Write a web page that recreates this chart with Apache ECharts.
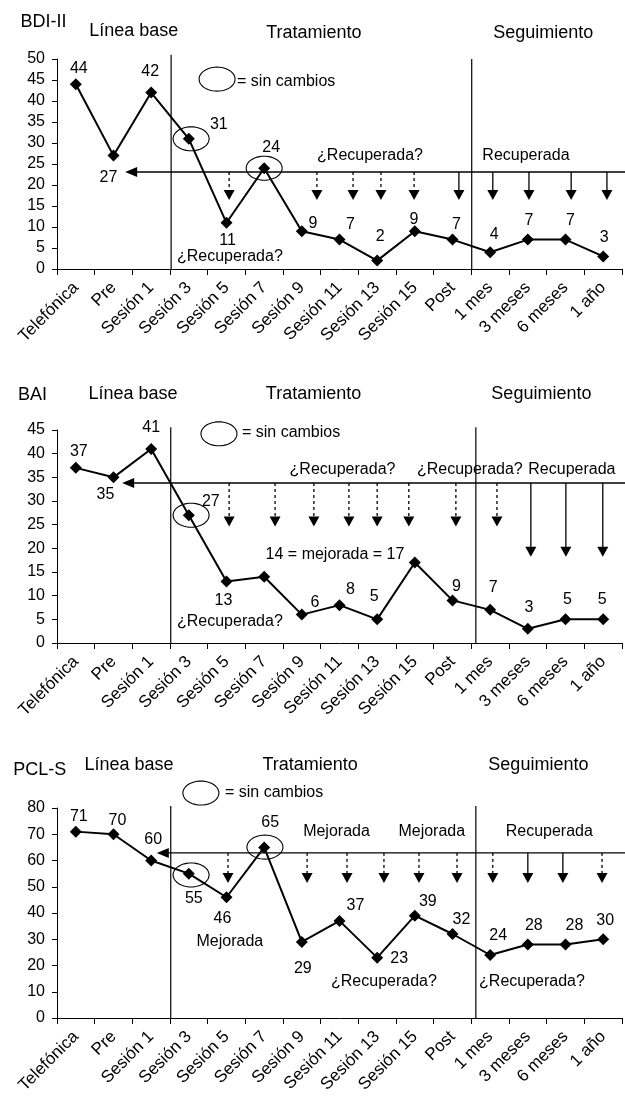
<!DOCTYPE html>
<html><head><meta charset="utf-8">
<script src="https://cdn.jsdelivr.net/npm/echarts@6/dist/echarts.min.js"></script>
<style>html,body{margin:0;padding:0;background:#fff}#c{width:625px;height:1099px}</style>
</head><body><div id="c"></div>
<script>
// ---------- data ----------
const categories = ['Telefónica','Pre','Sesión 1','Sesión 3','Sesión 5','Sesión 7','Sesión 9','Sesión 11','Sesión 13','Sesión 15','Post','1 mes','3 meses','6 meses','1 año'];

const bdiValues = [44,27,42,31,11,24,9,7,2,9,7,4,7,7,3];
const baiValues = [37,35,41,27,13,14,6,8,5,17,9,7,3,5,5];
const pclValues = [71,70,60,55,46,65,29,37,23,39,32,24,28,28,30];

const bdiYAxis = [0,50,5];   // min, max, interval
const baiYAxis = [0,45,5];
const pclYAxis = [0,80,10];

// cut-off (value) and where its arrow starts (x in category units)
const bdiCutoff = [23.1, 1.81];
const baiCutoff = [33.8, 1.73];
const pclCutoff = [62.9, 2.65];

// arrows: [x position (category units), tip value, dashed 1/0]
const bdiArrows = [[4.57,16.4,1],[6.9,16.4,1],[7.86,16.4,1],[8.6,16.4,1],[9.48,16.4,1],[10.67,16.4,0],[11.57,16.4,0],[12.53,16.4,0],[13.65,16.4,0],[14.6,16.4,0]];
const baiArrows = [[4.57,24.6,1],[5.79,24.6,1],[6.82,24.6,1],[7.75,24.6,1],[8.5,24.6,1],[9.34,24.6,1],[10.59,24.6,1],[11.68,24.6,1],[12.58,18.2,0],[13.51,18.2,0],[14.49,18.2,0]];
const pclArrows = [[4.54,51.4,1],[6.64,51.4,1],[7.7,51.4,1],[8.68,51.4,1],[9.61,51.4,1],[10.62,51.4,1],[11.57,51.4,1],[12.5,51.4,0],[13.43,51.4,0],[14.47,51.4,1]];

// phase separators: [x, top value]
const bdiPhases = [[3.03,51],[11.01,50]];
const baiPhases = [[3.02,45.6],[11.12,45.6]];
const pclPhases = [[3.02,80.8],[11.12,80.8]];

// "sin cambios" ellipses: [x, y]
const bdiEllipses = [[3.56,31],[5.5,24],[4.25,45.2]];
const baiEllipses = [[3.56,27],[4.3,44.2]];
const pclEllipses = [[3.56,54.5],[5.52,65.1],[3.82,85.7]];

// texts: [text, x, y]
const bdiHeaders = [['BDI-II',-0.36,58.8],['Línea base',2.04,56.7],['Tratamiento',6.82,56.2],['Seguimiento',12.91,56.2]];
const baiHeaders = [['BAI',-0.65,52.4],['Línea base',2.02,52.6],['Tratamiento',6.81,52.6],['Seguimiento',12.86,52.6]];
const pclHeaders = [['PCL-S',-0.46,94.5],['Línea base',1.91,96.4],['Tratamiento',6.72,96.2],['Seguimiento',12.78,96.2]];

const bdiNotes = [['¿Recuperada?',4.59,2.86],['¿Recuperada?',8.31,26.9],['Recuperada',12.45,26.9]];
const baiNotes = [['¿Recuperada?',4.59,4.44],['¿Recuperada?',7.58,36.55],['¿Recuperada?',10.96,36.55],['Recuperada',13.67,36.55],['14 = mejorada = 17',7.38,18.6]];
const pclNotes = [['Mejorada',4.59,28.95],['Mejorada',7.42,71.2],['Mejorada',9.95,71.2],['Recuperada',13.07,71.2],['¿Recuperada?',8.68,13.7],['¿Recuperada?',12.61,13.7]];

const bdiLegend = [['= sin cambios',4.78,44.6]];
const baiLegend = [['= sin cambios',4.91,44.4]];
const pclLegend = [['= sin cambios',4.46,85.7]];

// ---------- label placement (pixel offsets from each point) ----------
const bdiLabelOffsets = [[3,-16],[-5,22],[-1,-21],[30,-14],[1,18],[7,-21],[11,-8],[11,-15],[3,-24],[-1,-12],[4,-15],[4,-18],[1,-19],[5,-19],[1,-19]];
const baiLabelOffsets = [[3,-16],[-8,17],[0,-21],[22,-14],[-3,19],null,[13,-12],[11,-16],[-3,-23],null,[4,-14],[3,-22],[1,-21],[2,-20],[-1,-20]];
const pclLabelOffsets = [[3,-15],[4,-14],[2,-21],[5,25],[-4,21],[6,-25],[1,27],[16,-15],[22,1],[13,-14],[9,-14],[8,-19],[6,-19],[9,-19],[2,-19]];

// ---------- chart ----------
const FONT = 'Liberation Sans, Arial, Helvetica, sans-serif';
const panels = [
  {values:bdiValues, y:bdiYAxis, top:59, height:210, offs:bdiLabelOffsets, cut:bdiCutoff, arrows:bdiArrows, phases:bdiPhases, ell:bdiEllipses, headers:bdiHeaders, notes:bdiNotes, legend:bdiLegend},
  {values:baiValues, y:baiYAxis, top:430, height:213, offs:baiLabelOffsets, cut:baiCutoff, arrows:baiArrows, phases:baiPhases, ell:baiEllipses, headers:baiHeaders, notes:baiNotes, legend:baiLegend},
  {values:pclValues, y:pclYAxis, top:808, height:210, offs:pclLabelOffsets, cut:pclCutoff, arrows:pclArrows, phases:pclPhases, ell:pclEllipses, headers:pclHeaders, notes:pclNotes, legend:pclLegend}
];

const grid=[], xAxis=[], yAxis=[], series=[];

function textSeries(items, gi, size, align){
  return {
    type:'custom', xAxisIndex:gi*2+1, yAxisIndex:gi, clip:false, silent:true, z:5,
    data: items.map(t=>[t[1],t[2]]),
    renderItem:(params, api)=>{
      const p = api.coord([api.value(0), api.value(1)]);
      return {type:'text', x:p[0], y:p[1], style:{text:items[params.dataIndex][0], fontFamily:FONT, fontSize:size, fill:'#000', align:align, verticalAlign:'middle'}};
    }
  };
}

panels.forEach((P, gi)=>{
  grid.push({left:57, width:565, top:P.top, height:P.height, containLabel:false});
  xAxis.push({
    type:'category', gridIndex:gi, data:categories, boundaryGap:true,
    axisLine:{lineStyle:{color:'#000', width:1}},
    axisTick:{show:true, length:6, interval:0, lineStyle:{color:'#000', width:1}},
    axisLabel:{interval:0, rotate:45, margin:16, color:'#000', fontSize:17, fontFamily:FONT},
    splitLine:{show:false}
  });
  xAxis.push({type:'value', gridIndex:gi, min:0, max:15, show:false});
  yAxis.push({
    type:'value', gridIndex:gi, min:P.y[0], max:P.y[1], interval:P.y[2],
    axisLine:{show:true, lineStyle:{color:'#000', width:1}},
    axisTick:{show:true, length:5, lineStyle:{color:'#000'}},
    axisLabel:{color:'#000', fontSize:16, fontFamily:FONT, margin:12},
    splitLine:{show:false}
  });

  // main line
  series.push({
    type:'line', xAxisIndex:gi*2, yAxisIndex:gi, z:4,
    symbol:'diamond', symbolSize:12,
    lineStyle:{color:'#000', width:2}, itemStyle:{color:'#000'},
    data: P.values.map((v,i)=>({
      value:v,
      label: P.offs[i] ? {show:true, position:'inside', offset:P.offs[i], color:'#000', fontSize:16, fontFamily:FONT, formatter:'{c}'} : {show:false}
    }))
  });

  // phase separators
  series.push({
    type:'custom', xAxisIndex:gi*2+1, yAxisIndex:gi, clip:false, silent:true, z:2,
    data:P.phases,
    renderItem:(params, api)=>{
      const a = api.coord([api.value(0), 0]), b = api.coord([api.value(0), api.value(1)]);
      return {type:'line', shape:{x1:a[0], y1:a[1], x2:b[0], y2:b[1]}, style:{stroke:'#000', lineWidth:1.2}};
    }
  });

  // cut-off line with left arrowhead
  series.push({
    type:'custom', xAxisIndex:gi*2+1, yAxisIndex:gi, clip:false, silent:true, z:2,
    data:[[P.cut[1], P.cut[0]]],
    renderItem:(params, api)=>{
      const a = api.coord([api.value(0), api.value(1)]);
      const b = api.coord([15.1, api.value(1)]);
      return {type:'group', children:[
        {type:'line', shape:{x1:a[0]+10, y1:a[1], x2:b[0], y2:b[1]}, style:{stroke:'#000', lineWidth:1.4}},
        {type:'polygon', shape:{points:[[a[0],a[1]],[a[0]+12,a[1]-5],[a[0]+12,a[1]+5]]}, style:{fill:'#000'}}
      ]};
    }
  });

  // down arrows
  series.push({
    type:'custom', xAxisIndex:gi*2+1, yAxisIndex:gi, clip:false, silent:true, z:2,
    data:P.arrows,
    renderItem:(params, api)=>{
      const x = api.value(0), tip = api.value(1), dashed = api.value(2);
      const a = api.coord([x, P.cut[0]]), b = api.coord([x, tip]);
      return {type:'group', children:[
        {type:'line', shape:{x1:a[0], y1:a[1], x2:b[0], y2:b[1]-9}, style:{stroke:'#000', lineWidth:1.3, lineDash: dashed ? [3,3] : null}},
        {type:'polygon', shape:{points:[[b[0]-5.5,b[1]-10],[b[0]+5.5,b[1]-10],[b[0],b[1]]]}, style:{fill:'#000'}}
      ]};
    }
  });

  // ellipses
  series.push({
    type:'custom', xAxisIndex:gi*2+1, yAxisIndex:gi, clip:false, silent:true, z:3,
    data:P.ell,
    renderItem:(params, api)=>{
      const c = api.coord([api.value(0), api.value(1)]);
      const pts=[]; for(let k=0;k<48;k++){const t=k/48*Math.PI*2; pts.push([c[0]+18*Math.cos(t), c[1]+12*Math.sin(t)]);}
      return {type:'polygon', shape:{points:pts}, style:{fill:null, stroke:'#000', lineWidth:1.1}};
    }
  });

  series.push(textSeries(P.headers, gi, 18, 'center'));
  series.push(textSeries(P.notes, gi, 16, 'center'));
  series.push(textSeries(P.legend, gi, 16, 'left'));
});

const chart = echarts.init(document.getElementById('c'), null, {renderer:'canvas'});
chart.setOption({animation:false, backgroundColor:'#fff', textStyle:{fontFamily:FONT}, grid, xAxis, yAxis, series});
</script>
</body></html>
